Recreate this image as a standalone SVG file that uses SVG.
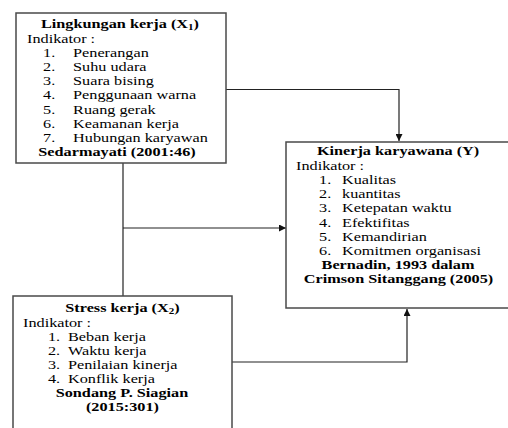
<svg xmlns="http://www.w3.org/2000/svg" width="508" height="428" viewBox="0 0 508 428">
<style>
.box{fill:#fff;stroke:#4a4a4a;stroke-width:1.5}
.t{font-family:"Liberation Serif","Times New Roman","DejaVu Serif",serif;font-size:12.5px;fill:#000}
.b{font-weight:bold;text-anchor:middle}
.c{fill:none;stroke:#222;stroke-width:1.2}
.sub{font-size:8.5px}
</style>
<defs>
<marker id="ah" viewBox="0 0 10 10" refX="10" refY="5" markerWidth="7" markerHeight="7" markerUnits="userSpaceOnUse" orient="auto">
<path d="M0,0 L10,5 L0,10 z" fill="#111"/>
</marker>
</defs>
<rect width="508" height="428" fill="#fff"/>
<g id="connectors">
<polyline class="c" points="226,89.5 399,89.5 399,141" marker-end="url(#ah)"/>
<line class="c" x1="123" y1="163" x2="123" y2="296"/>
<line class="c" x1="123" y1="228" x2="286" y2="228" marker-end="url(#ah)"/>
<polyline class="c" points="232,362 407,362 407,309" marker-end="url(#ah)"/>
</g>
<g id="node-x1">
<rect class="box" x="16" y="13" width="210" height="150"/>
<g class="t" font-family="Liberation Serif, serif" transform="scale(1.3 1)">
<text class="b" x="92.3" y="28.5">Lingkungan kerja (X<tspan class="sub" dy="2">1</tspan><tspan dy="-2">)</tspan></text>
<text x="20.8" y="42.7">Indikator :</text>
<text x="33.1" y="56.9">1.</text><text x="56.2" y="56.9">Penerangan</text>
<text x="33.1" y="71.1">2.</text><text x="56.2" y="71.1">Suhu udara</text>
<text x="33.1" y="85.3">3.</text><text x="56.2" y="85.3">Suara bising</text>
<text x="33.1" y="99.5">4.</text><text x="56.2" y="99.5">Penggunaan warna</text>
<text x="33.1" y="113.7">5.</text><text x="56.2" y="113.7">Ruang gerak</text>
<text x="33.1" y="127.9">6.</text><text x="56.2" y="127.9">Keamanan kerja</text>
<text x="33.1" y="142.1">7.</text><text x="56.2" y="142.1">Hubungan karyawan</text>
<text class="b" x="90" y="156.3">Sedarmayati (2001:46)</text>
</g>
</g>
<g id="node-y">
<rect class="box" x="286" y="142" width="240" height="166"/>
<g class="t" font-family="Liberation Serif, serif" transform="scale(1.3 1)">
<text class="b" x="306.2" y="155.5">Kinerja karyawana (Y)</text>
<text x="227.7" y="169.7">Indikator :</text>
<text x="245.4" y="184">1.</text><text x="263.1" y="184">Kualitas</text>
<text x="245.4" y="198.2">2.</text><text x="263.1" y="198.2">kuantitas</text>
<text x="245.4" y="212.4">3.</text><text x="263.1" y="212.4">Ketepatan waktu</text>
<text x="245.4" y="226.6">4.</text><text x="263.1" y="226.6">Efektifitas</text>
<text x="245.4" y="240.8">5.</text><text x="263.1" y="240.8">Kemandirian</text>
<text x="245.4" y="255">6.</text><text x="263.1" y="255">Komitmen organisasi</text>
<text class="b" x="306.2" y="269.2">Bernadin, 1993 dalam</text>
<text class="b" x="306.5" y="283.4">Crimson Sitanggang (2005)</text>
</g>
</g>
<g id="node-x2">
<rect class="box" x="13" y="296" width="219" height="150"/>
<g class="t" font-family="Liberation Serif, serif" transform="scale(1.3 1)">
<text class="b" x="94.2" y="312.5">Stress kerja (X<tspan class="sub" dy="2">2</tspan><tspan dy="-2">)</tspan></text>
<text x="17.7" y="326.6">Indikator :</text>
<text x="36.9" y="340.7">1.</text><text x="52.3" y="340.7">Beban kerja</text>
<text x="36.9" y="354.8">2.</text><text x="52.3" y="354.8">Waktu kerja</text>
<text x="36.9" y="368.9">3.</text><text x="52.3" y="368.9">Penilaian kinerja</text>
<text x="36.9" y="383">4.</text><text x="52.3" y="383">Konflik kerja</text>
<text class="b" x="93.8" y="397.1">Sondang P. Siagian</text>
<text class="b" x="94.2" y="411.2">(2015:301)</text>
</g>
</g>
</svg>
